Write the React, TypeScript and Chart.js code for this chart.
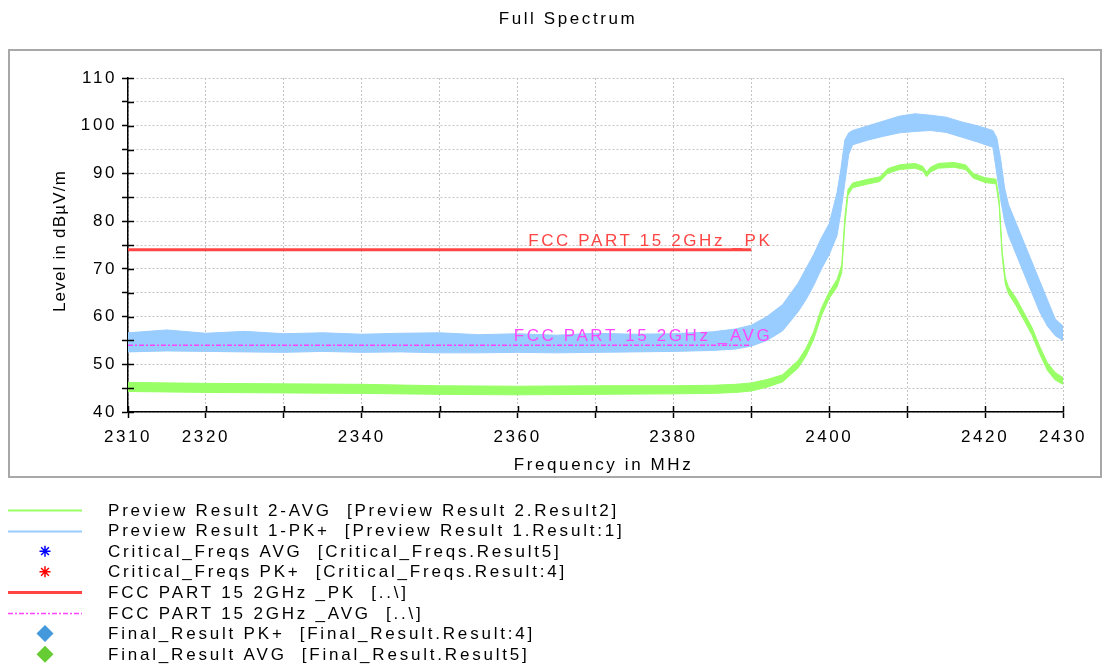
import React, { useEffect, useRef } from 'react';
import { Chart, registerables } from 'chart.js';

Chart.register(...registerables);

// ---------------- data ----------------
const chartTitle = 'Full Spectrum';
const xAxisTitle = 'Frequency in MHz';
const yAxisTitle = 'Level in dBµV/m';

const xMin = 2310;
const xMax = 2430;
const yMin = 40;
const yMax = 110;
const xLabelTicks = [2310, 2320, 2340, 2360, 2380, 2400, 2420, 2430];
const yLabelTicks = [40, 50, 60, 70, 80, 90, 100, 110];

// Preview Result 1-PK+ (envelope of the noisy trace)
const pkFreqs = [2310, 2315, 2320, 2325, 2330, 2335, 2340, 2345, 2350, 2355, 2360, 2365, 2370, 2375, 2380, 2385, 2388, 2390, 2392, 2394, 2396, 2397, 2398, 2399, 2400, 2401, 2401.5, 2402, 2402.5, 2403, 2405, 2407, 2409, 2411, 2413, 2415, 2417, 2419, 2421, 2421.5, 2422, 2422.5, 2423, 2424, 2425, 2426, 2427, 2428, 2429, 2430];
const pkUpper = [56.6, 57.2, 56.5, 56.9, 56.4, 56.6, 56.3, 56.5, 56.6, 56.2, 56.4, 56.1, 56.5, 56.3, 56.4, 56.8, 57.4, 58.2, 60.0, 62.5, 67.0, 70.0, 73.0, 76.5, 79.5, 86.0, 91.0, 97.0, 98.5, 99.0, 100.0, 101.0, 102.0, 102.5, 102.2, 101.8, 100.8, 100.0, 99.0, 97.5, 93.0, 87.0, 83.5, 79.5, 75.5, 71.5, 67.5, 63.5, 59.5, 58.0];
const pkLower = [52.6, 52.8, 52.7, 52.6, 52.5, 52.7, 52.5, 52.6, 52.4, 52.4, 52.5, 52.4, 52.5, 52.6, 52.7, 52.9, 53.2, 53.8, 55.0, 57.0, 61.0, 63.5, 66.5, 70.0, 73.0, 77.0, 82.0, 88.0, 94.0, 96.0, 97.0, 97.8, 98.5, 98.8, 99.0, 98.6, 97.6, 96.6, 95.5, 90.0, 84.5, 80.0, 77.0, 73.0, 69.0, 65.0, 61.0, 58.0, 56.0, 55.0];

// Preview Result 2-AVG (envelope of the trace)
const avgFreqs = [2310, 2320, 2330, 2340, 2350, 2360, 2370, 2380, 2385, 2388, 2390, 2392, 2394, 2396, 2397, 2398, 2399, 2400, 2401, 2401.6, 2402, 2402.4, 2403, 2405, 2406.5, 2407.5, 2409, 2411, 2412, 2412.5, 2413, 2414, 2416, 2417.5, 2418.5, 2420, 2421.4, 2421.8, 2422.2, 2422.6, 2423, 2424, 2425, 2426, 2427, 2428, 2429, 2430];
const avgUpper = [46.2, 46.0, 45.9, 45.8, 45.5, 45.4, 45.5, 45.5, 45.6, 45.8, 46.1, 46.8, 47.8, 50.8, 53.3, 56.8, 61.8, 65.2, 67.8, 70.8, 80.8, 86.6, 88.0, 88.8, 89.3, 91.0, 91.8, 92.1, 91.5, 90.3, 91.3, 92.1, 92.3, 91.8, 90.0, 89.1, 88.8, 84.6, 73.6, 68.2, 66.2, 63.8, 60.8, 57.8, 53.8, 50.3, 48.3, 47.2];
const avgLower = [44.3, 44.1, 44.0, 43.9, 43.7, 43.6, 43.7, 43.8, 43.9, 44.1, 44.4, 45.2, 46.3, 49.2, 51.7, 55.2, 60.2, 63.8, 66.2, 69.2, 79.2, 85.4, 87.0, 87.8, 88.3, 90.0, 90.8, 91.1, 90.5, 89.3, 90.3, 91.1, 91.3, 90.8, 89.0, 88.1, 87.8, 83.4, 72.4, 66.8, 64.8, 62.2, 59.2, 56.2, 52.2, 48.7, 46.7, 45.8];

// Limit lines
const pkLimitFreqs = [2310, 2390];
const pkLimitLevels = [74, 74];
const avgLimitFreqs = [2310, 2390];
const avgLimitLevels = [54, 54];
const pkLimitLabel = 'FCC PART 15 2GHz _PK';
const avgLimitLabel = 'FCC PART 15 2GHz _AVG';

const legendLabels = [
  'Preview Result 2-AVG  [Preview Result 2.Result2]',
  'Preview Result 1-PK+  [Preview Result 1.Result:1]',
  'Critical_Freqs AVG  [Critical_Freqs.Result5]',
  'Critical_Freqs PK+  [Critical_Freqs.Result:4]',
  'FCC PART 15 2GHz _PK  [..\\]',
  'FCC PART 15 2GHz _AVG  [..\\]',
  'Final_Result PK+  [Final_Result.Result:4]',
  'Final_Result AVG  [Final_Result.Result5]',
];

// ---------------- styles ----------------
const FONT = "'Liberation Sans', Arial, sans-serif";
const FONT_SIZE = 17;
const SPACING = '2.6px';
const COL_GREEN = '#99FF66';
const COL_BLUE = '#99CCFF';
const COL_RED = '#FF4444';
const COL_MAGENTA = '#FF44FF';
const legendSymbols = [
  { kind: 'line', color: COL_GREEN, width: 2, dash: [] as number[] },
  { kind: 'line', color: COL_BLUE, width: 2, dash: [] as number[] },
  { kind: 'star', color: '#0000FF' },
  { kind: 'star', color: '#FF0000' },
  { kind: 'line', color: COL_RED, width: 3, dash: [] as number[] },
  { kind: 'line', color: COL_MAGENTA, width: 1.5, dash: [5, 2, 2, 2] },
  { kind: 'diamond', color: '#4499DD' },
  { kind: 'diamond', color: '#66CC33' },
];

const toPoints = (xs: number[], ys: number[]) => xs.map((x, i) => ({ x, y: ys[i] }));

const spacingPlugin = {
  id: 'spacing',
  beforeInit(chart: any) { chart.ctx.letterSpacing = SPACING; },
  beforeUpdate(chart: any) { chart.ctx.letterSpacing = SPACING; },
  beforeDraw(chart: any) { chart.ctx.letterSpacing = SPACING; },
};

const framePlugin = {
  id: 'frame',
  beforeDraw(chart: any) {
    const ctx = chart.ctx;
    ctx.save();
    ctx.fillStyle = '#ffffff';
    ctx.fillRect(0, 0, chart.width, chart.height);
    ctx.strokeStyle = '#a8a8a8';
    ctx.lineWidth = 2;
    ctx.strokeRect(9, 50, 1092, 427);
    ctx.restore();
  },
};

const decorPlugin = {
  id: 'decor',
  afterDraw(chart: any) {
    const ctx = chart.ctx;
    const xs = chart.scales.x;
    const ys = chart.scales.y;
    const area = chart.chartArea;
    ctx.save();
    // inward tick marks
    ctx.strokeStyle = '#000';
    ctx.lineWidth = 1.5;
    ctx.beginPath();
    ys.ticks.forEach((t: any) => {
      const py = Math.round(ys.getPixelForValue(t.value)) + 0.5;
      ctx.moveTo(area.left, py);
      ctx.lineTo(area.left + 6, py);
    });
    xs.ticks.forEach((t: any) => {
      const px = Math.round(xs.getPixelForValue(t.value)) + 0.5;
      ctx.moveTo(px, area.bottom);
      ctx.lineTo(px, area.bottom - 6);
    });
    ctx.stroke();

    ctx.font = `${FONT_SIZE}px ${FONT}`;
    ctx.letterSpacing = SPACING;
    ctx.fillStyle = '#000';
    ctx.textBaseline = 'middle';

    // chart title and axis titles
    ctx.textAlign = 'center';
    ctx.fillText(chartTitle, 568, 19);
    ctx.fillText(xAxisTitle, area.left + (area.right - area.left) / 2 + 8, 465);
    ctx.save();
    ctx.letterSpacing = '1.2px';
    ctx.translate(60, area.top + (area.bottom - area.top) / 2 - 4);
    ctx.rotate(-Math.PI / 2);
    ctx.fillText(yAxisTitle, 0, 0);
    ctx.restore();

    // limit line labels
    ctx.textAlign = 'right';
    ctx.textBaseline = 'alphabetic';
    const endX = xs.getPixelForValue(pkLimitFreqs[pkLimitFreqs.length - 1]) + 21;
    ctx.fillStyle = COL_RED;
    ctx.fillText(pkLimitLabel, endX, ys.getPixelForValue(pkLimitLevels[0]) - 4);
    const endX2 = xs.getPixelForValue(avgLimitFreqs[avgLimitFreqs.length - 1]) + 21;
    ctx.fillStyle = COL_MAGENTA;
    ctx.fillText(avgLimitLabel, endX2, ys.getPixelForValue(avgLimitLevels[0]) - 4);

    // legend
    ctx.textAlign = 'left';
    ctx.textBaseline = 'middle';
    ctx.letterSpacing = '2.8px';
    legendLabels.forEach((label, i) => {
      const y = 510 + i * 20.6;
      const s: any = legendSymbols[i];
      ctx.save();
      if (s.kind === 'line') {
        ctx.strokeStyle = s.color;
        ctx.lineWidth = s.width;
        ctx.setLineDash(s.dash);
        ctx.beginPath();
        ctx.moveTo(8, Math.round(y) + 0.5);
        ctx.lineTo(82, Math.round(y) + 0.5);
        ctx.stroke();
      } else if (s.kind === 'star') {
        ctx.strokeStyle = s.color;
        ctx.lineWidth = 1.5;
        const cx = 45, r = 5.5;
        ctx.beginPath();
        for (let k = 0; k < 4; k++) {
          const a = (k * Math.PI) / 4;
          ctx.moveTo(cx - r * Math.cos(a), y - r * Math.sin(a));
          ctx.lineTo(cx + r * Math.cos(a), y + r * Math.sin(a));
        }
        ctx.stroke();
      } else {
        ctx.fillStyle = s.color;
        const cx = 45, r = 8.5;
        ctx.beginPath();
        ctx.moveTo(cx, y - r);
        ctx.lineTo(cx + r, y);
        ctx.lineTo(cx, y + r);
        ctx.lineTo(cx - r, y);
        ctx.closePath();
        ctx.fill();
      }
      ctx.restore();
      ctx.fillStyle = '#000';
      ctx.fillText(label, 108, y + 1);
    });
    ctx.restore();
  },
};

const App = () => {
  const ref = useRef<HTMLCanvasElement>(null);

  useEffect(() => {
    const canvas = ref.current;
    if (!canvas) return;
    Chart.defaults.font.family = FONT;
    Chart.defaults.font.size = FONT_SIZE;
    Chart.defaults.color = '#000';

    const chart = new Chart(canvas, {
      type: 'line',
      data: {
        datasets: [
          { label: 'PK lower', data: toPoints(pkFreqs, pkLower), borderColor: COL_BLUE, borderWidth: 1, pointRadius: 0, fill: false, order: 3 },
          { label: 'PK upper', data: toPoints(pkFreqs, pkUpper), borderColor: COL_BLUE, backgroundColor: COL_BLUE, borderWidth: 1, pointRadius: 0, fill: '-1', order: 3 },
          { label: 'AVG lower', data: toPoints(avgFreqs, avgLower), borderColor: COL_GREEN, borderWidth: 1, pointRadius: 0, fill: false, order: 2 },
          { label: 'AVG upper', data: toPoints(avgFreqs, avgUpper), borderColor: COL_GREEN, backgroundColor: COL_GREEN, borderWidth: 1, pointRadius: 0, fill: '-1', order: 2 },
          { label: pkLimitLabel, data: toPoints(pkLimitFreqs, pkLimitLevels), borderColor: COL_RED, borderWidth: 3, pointRadius: 0, fill: false, order: 1 },
          { label: avgLimitLabel, data: toPoints(avgLimitFreqs, avgLimitLevels), borderColor: COL_MAGENTA, borderWidth: 1.5, borderDash: [5, 2, 2, 2], pointRadius: 0, fill: false, order: 0 },
        ],
      },
      options: {
        animation: false,
        responsive: false,
        devicePixelRatio: 1,
        events: [],
        layout: { padding: { left: 0, right: 39, top: 78, bottom: 182 } },
        plugins: {
          legend: { display: false },
          tooltip: { enabled: false },
          title: { display: false },
        },
        scales: {
          x: {
            type: 'linear',
            min: xMin,
            max: xMax,
            afterFit: (s: any) => { s.height = 70; },
            ticks: {
              stepSize: 10,
              autoSkip: false,
              maxRotation: 0,
              padding: 9,
              color: '#000',
              font: { size: FONT_SIZE },
              callback: (v: any) => (xLabelTicks.includes(Number(v)) ? String(v) : ''),
            },
            grid: { color: '#c4c4c4', lineWidth: 1, tickLength: 6, tickColor: '#000', tickWidth: 1.5 },
            border: { display: true, color: '#000', width: 1.5, dash: [2, 2] },
          },
          y: {
            type: 'linear',
            min: yMin,
            max: yMax,
            afterFit: (s: any) => { s.width = 128; },
            ticks: {
              stepSize: 5,
              autoSkip: false,
              padding: 5,
              color: '#000',
              font: { size: FONT_SIZE },
              callback: (v: any) => (yLabelTicks.includes(Number(v)) ? String(v) : ''),
            },
            grid: { color: '#c4c4c4', lineWidth: 1, tickLength: 6, tickColor: '#000', tickWidth: 1.5 },
            border: { display: true, color: '#000', width: 1.5, dash: [2, 2] },
          },
        },
      },
      plugins: [spacingPlugin, framePlugin, decorPlugin],
    } as any);

    return () => chart.destroy();
  }, []);

  return (
    <div style={{ position: 'fixed', left: 0, top: 0, width: 1102, height: 664, background: '#fff' }}>
      <canvas ref={ref} width={1102} height={664} style={{ display: 'block', width: 1102, height: 664 }} />
    </div>
  );
};

export default App;
